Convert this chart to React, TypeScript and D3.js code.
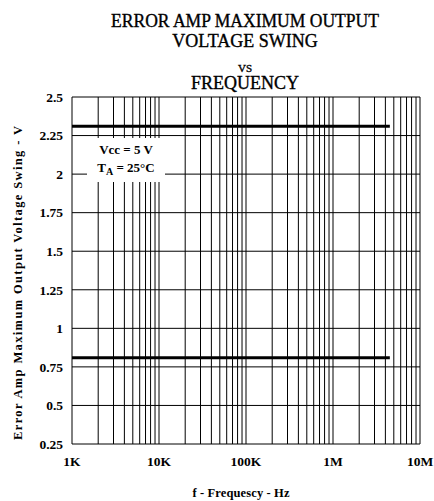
import React from "react";
import * as d3 from "d3";

const yTicks = [2.5, 2.25, 2, 1.75, 1.5, 1.25, 1, 0.75, 0.5, 0.25];
const yTickLabels = ["2.5", "2.25", "2", "1.75", "1.5", "1.25", "1", "0.75", "0.5", "0.25"];
const xTicks = [1e3, 1e4, 1e5, 1e6, 1e7];
const xTickLabels = ["1K", "10K", "100K", "1M", "10M"];
const highSeries = [
  { f: 1e3, v: 2.31 },
  { f: 4.5e6, v: 2.31 },
];
const lowSeries = [
  { f: 1e3, v: 0.81 },
  { f: 4.5e6, v: 0.81 },
];
const titleLines = ["ERROR AMP MAXIMUM OUTPUT", "VOLTAGE SWING", "VS", "FREQUENCY"];

const FONT = "Liberation Serif";

export default function App() {
  const W = 434, H = 501;
  const left = 72, right = 420, top = 97, bottom = 444;
  const x = d3.scaleLog().domain([1e3, 1e7]).range([left, right]);
  const y = d3.scaleLinear().domain([0.25, 2.5]).range([bottom, top]);

  const minor: number[] = [];
  for (let d = 1e3; d < 1e7; d *= 10) {
    for (let k = 1; k <= 9; k++) minor.push(d * k);
  }
  minor.push(1e7);

  const line = d3
    .line<{ f: number; v: number }>()
    .x((d) => x(d.f))
    .y((d) => y(d.v));

  const cx = (left + right) / 2 - 1;
  const ts = { fontFamily: FONT };
  const tt = { fontFamily: FONT, stroke: "#000", strokeWidth: 0.35 };

  return (
    <svg width={W} height={H} style={{ position: "absolute", left: 0, top: 0, background: "#fff" }}>
      <rect x={0} y={0} width={W} height={H} fill="#fff" />
      {/* title */}
      <text style={tt} x={cx} y={27} textAnchor="middle" fontSize={18} textLength={268} lengthAdjust="spacingAndGlyphs">
        {titleLines[0]}
      </text>
      <text style={tt} x={cx} y={47} textAnchor="middle" fontSize={18}>
        {titleLines[1]}
      </text>
      <text style={tt} x={cx} y={72} textAnchor="middle" fontSize={11}>
        {titleLines[2]}
      </text>
      <text style={tt} x={cx} y={89} textAnchor="middle" fontSize={18}>
        {titleLines[3]}
      </text>

      {/* grid */}
      <g stroke="#000" strokeWidth={1}>
        {minor.map((f, i) => (
          <line key={"v" + i} x1={x(f)} x2={x(f)} y1={top} y2={bottom} />
        ))}
        {yTicks.map((v, i) => (
          <line key={"h" + i} x1={left} x2={right} y1={y(v)} y2={y(v)} />
        ))}
      </g>

      {/* legend box */}
      <rect x={87} y={138} width={78} height={44} fill="#fff" />
      <text style={ts} x={126} y={154} textAnchor="middle" fontSize={13} fontWeight="bold">
        Vcc = 5 V
      </text>
      <text style={ts} x={126} y={172} textAnchor="middle" fontSize={13} fontWeight="bold">
        T<tspan fontSize={10} dy={3}>A</tspan>
        <tspan dy={-3}> = 25°C</tspan>
      </text>

      {/* data */}
      <path d={line(highSeries) || ""} fill="none" stroke="#000" strokeWidth={3} />
      <path d={line(lowSeries) || ""} fill="none" stroke="#000" strokeWidth={3} />

      {/* y tick labels */}
      {yTicks.map((v, i) => (
        <text
          key={"yl" + i}
          style={ts}
          x={63}
          y={y(v)}
          dy="0.35em"
          textAnchor="end"
          fontSize={13.5}
          fontWeight="bold"
        >
          {yTickLabels[i]}
        </text>
      ))}

      {/* x tick labels */}
      {xTicks.map((f, i) => (
        <text
          key={"xl" + i}
          style={ts}
          x={x(f)}
          y={466}
          textAnchor="middle"
          fontSize={13.5}
          fontWeight="bold"
        >
          {xTickLabels[i]}
        </text>
      ))}

      {/* axis titles */}
      <text
        style={ts}
        x={241}
        y={497}
        textAnchor="middle"
        fontSize={12.5}
        fontWeight="bold"
        textLength={97}
        lengthAdjust="spacing"
      >
        f - Frequescy - Hz
      </text>
      <text
        style={ts}
        transform="translate(22, 283) rotate(-90)"
        textAnchor="middle"
        fontSize={12.5}
        fontWeight="bold"
        textLength={314}
        lengthAdjust="spacing"
      >
        Error Amp Maximum Output Voltage Swing - V
      </text>
    </svg>
  );
}
